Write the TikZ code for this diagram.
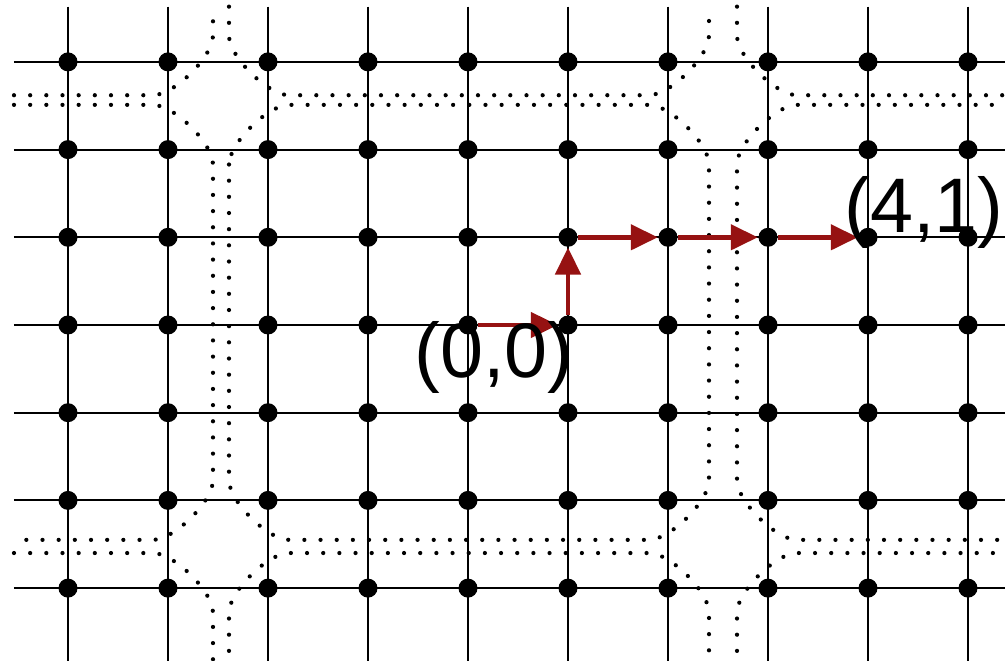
\documentclass[tikz,border=0pt]{standalone}
\usepackage{fontspec}
\setmainfont{Liberation Sans}
\usepackage{xcolor}
\usepackage{tikz}
\usetikzlibrary{arrows.meta}
\definecolor{walkred}{RGB}{150,18,18}

\begin{document}
\begin{tikzpicture}[x=1cm,y=0.877cm,>={Triangle[length=0.27cm,width=0.25cm]},
                    dot/.style={circle, fill=black, inner sep=0pt, minimum size=0.19cm},
                    road/.style={black, line width=1.2pt, line cap=round,
                                 dash pattern=on 0pt off 4.6pt},
                    lattice/.style={black, line width=0.6pt},
                    walk/.style={walkred, line width=1.3pt, ->},
                    plain/.style={inner sep=0pt, font=\fontsize{22}{26}\selectfont}]

  \useasboundingbox (-4.68,-3.82) rectangle (5.37,3.706);
  \clip (-4.68,-3.82) rectangle (5.37,3.706);

  % dotted streets
  \draw[road] (-4.54,2.62) -- (-3.15,2.62) .. controls +(0.21,0) and +(0,-0.24) .. (-2.55,3.30)
        -- (-2.55,3.63);
  \draw[road] (-2.39,3.63) -- (-2.39,3.30) .. controls +(0,-0.24) and +(-0.21,0) .. (-1.79,2.62)
        -- (1.81,2.62) .. controls +(0.21,0) and +(0,-0.24) .. (2.41,3.30) -- (2.41,3.63);
  \draw[road] (2.69,3.63) -- (2.69,3.30) .. controls +(0,-0.24) and +(-0.21,0) .. (3.29,2.62)
        -- (5.4,2.62);
  \draw[road] (-4.54,2.51) -- (-3.15,2.51) .. controls +(0.21,0) and +(0,0.24) .. (-2.55,1.83)
        -- (-2.55,-1.77) .. controls +(0,-0.24) and +(0.21,0) .. (-3.15,-2.45) -- (-4.54,-2.45);
  \draw[road] (-2.39,1.83) -- (-2.39,-1.77) .. controls +(0,-0.24) and +(-0.21,0) .. (-1.79,-2.45)
        -- (1.81,-2.45) .. controls +(0.21,0) and +(0,-0.24) .. (2.41,-1.77)
        -- (2.41,1.83) .. controls +(0,0.24) and +(0.21,0) .. (1.81,2.51)
        -- (-1.79,2.51) .. controls +(-0.21,0) and +(0,0.24) .. (-2.39,1.83);
  \draw[road] (5.4,2.51) -- (3.29,2.51) .. controls +(-0.21,0) and +(0,0.24) .. (2.69,1.83)
        -- (2.69,-1.77) .. controls +(0,-0.24) and +(-0.21,0) .. (3.29,-2.45) -- (5.4,-2.45);
  \draw[road] (-4.54,-2.60) -- (-3.15,-2.60) .. controls +(0.21,0) and +(0,0.24) .. (-2.55,-3.28)
        -- (-2.55,-3.9);
  \draw[road] (-2.39,-3.9) -- (-2.39,-3.28) .. controls +(0,0.24) and +(-0.21,0) .. (-1.79,-2.60)
        -- (1.81,-2.60) .. controls +(0.21,0) and +(0,0.24) .. (2.41,-3.28) -- (2.41,-3.9);
  \draw[road] (2.69,-3.9) -- (2.69,-3.28) .. controls +(0,0.24) and +(-0.21,0) .. (3.29,-2.60)
        -- (5.4,-2.60);

  % lattice
  \foreach \t in {-3,...,3}
    \draw[lattice] (-4.54,\t) -- (5.4,\t);
  \foreach \t in {-4,...,5}
    \draw[lattice] (\t,3.63) -- (\t,-3.9);
  \foreach \i in {0,...,9}{
    \foreach \j in {0,...,6}{
      \node[dot] (n\i\j) at ({\i-4},{\j-3}) {};
    }
  }

  % walk from (0,0) to (4,1)
  \draw[walk] (n43) -- (n53);
  \draw[walk] (n53) -- (n54);
  \draw[walk] (n54) -- (n64);
  \draw[walk] (n64) -- (n74);
  \draw[walk] (n74) -- (n84);

  \node[plain,anchor=base] (origin) at (0.26,-0.593) {(0,0)};
  \node[plain,anchor=base] (target) at (4.56,1.06) {(4,1)};
\end{tikzpicture}
\end{document}
